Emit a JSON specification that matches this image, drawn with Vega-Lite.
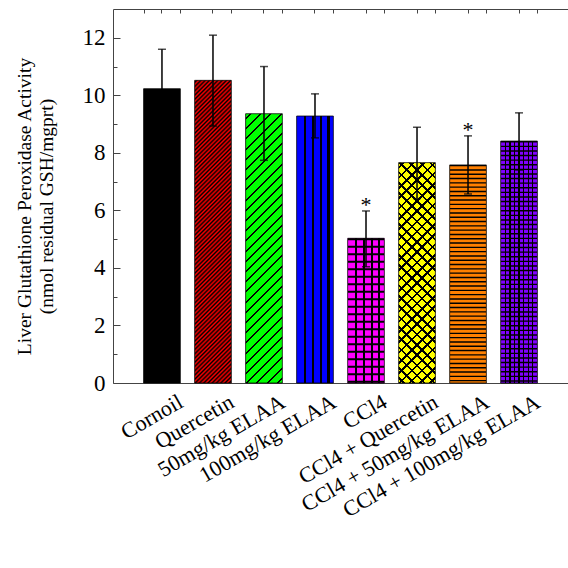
{
  "$schema": "https://vega.github.io/schema/vega-lite/v6.json",
  "autosize": "none",
  "padding": {"left": 113, "top": 9, "right": 0, "bottom": 185},
  "width": 455,
  "height": 374,
  "background": "white",
  "config": {"view": {"stroke": null}},
  "data": {"values": [
    {"group": "Cornoil", "mean": 10.23, "lo": 8.86, "hi": 11.6, "sig": ""},
    {"group": "Quercetin", "mean": 10.52, "lo": 8.93, "hi": 12.09, "sig": ""},
    {"group": "50mg/kg ELAA", "mean": 9.36, "lo": 7.74, "hi": 11.0, "sig": ""},
    {"group": "100mg/kg  ELAA", "mean": 9.28, "lo": 8.52, "hi": 10.05, "sig": ""},
    {"group": "CCl4", "mean": 5.03, "lo": 4.04, "hi": 5.98, "sig": "*"},
    {"group": "CCl4 + Quercetin", "mean": 7.66, "lo": 6.41, "hi": 8.89, "sig": ""},
    {"group": "CCl4 + 50mg/kg ELAA", "mean": 7.58, "lo": 6.57, "hi": 8.59, "sig": "*"},
    {"group": "CCl4 + 100mg/kg ELAA", "mean": 8.41, "lo": 7.4, "hi": 9.39, "sig": ""}
  ]},
  "resolve": {"axis": {"x": "independent", "y": "independent"}},
  "layer": [
    {
      "mark": {"type": "bar", "stroke": "black", "strokeWidth": 1, "strokeOpacity": 0.75},
      "encoding": {
        "x": {"field": "group", "type": "nominal", "sort": null,
          "scale": {"paddingInner": 0.28, "paddingOuter": 0.6},
          "axis": {"title": null, "labelAngle": -30, "labelFont": "Liberation Serif", "labelFontSize": 22, "labelColor": "black", "labelLimit": 400, "labelOffset": 14, "labelPadding": 12, "tickSize": -4, "tickColor": "#444", "domainColor": "#444", "grid": false}},
        "y": {"field": "mean", "type": "quantitative",
          "scale": {"domain": [0, 13], "nice": false, "zero": true},
          "axis": {"values": [0, 2, 4, 6, 8, 10, 12], "tickSize": -7, "labelPadding": 15, "labelFont": "Liberation Serif", "labelFontSize": 23, "labelColor": "black", "tickColor": "#444", "domainColor": "#444", "grid": false,
            "title": ["Liver Glutathione Peroxidase Activity", "(nmol residual GSH/mgprt)"],
            "titleFont": "Liberation Serif", "titleFontSize": 19.5, "titleFontWeight": "normal", "titleColor": "black", "titleAngle": -90, "titleAlign": "center", "titleBaseline": "top", "titleLineHeight": 22, "titleX": -98, "titleY": 197}},
        "fill": {
          "condition": [
            {"test": "datum.group === 'Cornoil'", "value": "#000000"},
            {"test": "datum.group === 'Quercetin'", "value": {"gradient": "linear", "x1": 0, "y1": 0, "x2": 0.1339, "y2": 1.105, "stops": [
              {"offset": 0, "color": "#f00"}, {"offset": 0.00625, "color": "#000"}, {"offset": 0.0125, "color": "#f00"}, {"offset": 0.01875, "color": "#000"}, {"offset": 0.025, "color": "#f00"}, {"offset": 0.03125, "color": "#000"}, {"offset": 0.0375, "color": "#f00"}, {"offset": 0.04375, "color": "#000"},
              {"offset": 0.05, "color": "#f00"}, {"offset": 0.05625, "color": "#000"}, {"offset": 0.0625, "color": "#f00"}, {"offset": 0.06875, "color": "#000"}, {"offset": 0.075, "color": "#f00"}, {"offset": 0.08125, "color": "#000"}, {"offset": 0.0875, "color": "#f00"}, {"offset": 0.09375, "color": "#000"},
              {"offset": 0.1, "color": "#f00"}, {"offset": 0.10625, "color": "#000"}, {"offset": 0.1125, "color": "#f00"}, {"offset": 0.11875, "color": "#000"}, {"offset": 0.125, "color": "#f00"}, {"offset": 0.13125, "color": "#000"}, {"offset": 0.1375, "color": "#f00"}, {"offset": 0.14375, "color": "#000"},
              {"offset": 0.15, "color": "#f00"}, {"offset": 0.15625, "color": "#000"}, {"offset": 0.1625, "color": "#f00"}, {"offset": 0.16875, "color": "#000"}, {"offset": 0.175, "color": "#f00"}, {"offset": 0.18125, "color": "#000"}, {"offset": 0.1875, "color": "#f00"}, {"offset": 0.19375, "color": "#000"},
              {"offset": 0.2, "color": "#f00"}, {"offset": 0.20625, "color": "#000"}, {"offset": 0.2125, "color": "#f00"}, {"offset": 0.21875, "color": "#000"}, {"offset": 0.225, "color": "#f00"}, {"offset": 0.23125, "color": "#000"}, {"offset": 0.2375, "color": "#f00"}, {"offset": 0.24375, "color": "#000"},
              {"offset": 0.25, "color": "#f00"}, {"offset": 0.25625, "color": "#000"}, {"offset": 0.2625, "color": "#f00"}, {"offset": 0.26875, "color": "#000"}, {"offset": 0.275, "color": "#f00"}, {"offset": 0.28125, "color": "#000"}, {"offset": 0.2875, "color": "#f00"}, {"offset": 0.29375, "color": "#000"},
              {"offset": 0.3, "color": "#f00"}, {"offset": 0.30625, "color": "#000"}, {"offset": 0.3125, "color": "#f00"}, {"offset": 0.31875, "color": "#000"}, {"offset": 0.325, "color": "#f00"}, {"offset": 0.33125, "color": "#000"}, {"offset": 0.3375, "color": "#f00"}, {"offset": 0.34375, "color": "#000"},
              {"offset": 0.35, "color": "#f00"}, {"offset": 0.35625, "color": "#000"}, {"offset": 0.3625, "color": "#f00"}, {"offset": 0.36875, "color": "#000"}, {"offset": 0.375, "color": "#f00"}, {"offset": 0.38125, "color": "#000"}, {"offset": 0.3875, "color": "#f00"}, {"offset": 0.39375, "color": "#000"},
              {"offset": 0.4, "color": "#f00"}, {"offset": 0.40625, "color": "#000"}, {"offset": 0.4125, "color": "#f00"}, {"offset": 0.41875, "color": "#000"}, {"offset": 0.425, "color": "#f00"}, {"offset": 0.43125, "color": "#000"}, {"offset": 0.4375, "color": "#f00"}, {"offset": 0.44375, "color": "#000"},
              {"offset": 0.45, "color": "#f00"}, {"offset": 0.45625, "color": "#000"}, {"offset": 0.4625, "color": "#f00"}, {"offset": 0.46875, "color": "#000"}, {"offset": 0.475, "color": "#f00"}, {"offset": 0.48125, "color": "#000"}, {"offset": 0.4875, "color": "#f00"}, {"offset": 0.49375, "color": "#000"},
              {"offset": 0.5, "color": "#f00"}, {"offset": 0.50625, "color": "#000"}, {"offset": 0.5125, "color": "#f00"}, {"offset": 0.51875, "color": "#000"}, {"offset": 0.525, "color": "#f00"}, {"offset": 0.53125, "color": "#000"}, {"offset": 0.5375, "color": "#f00"}, {"offset": 0.54375, "color": "#000"},
              {"offset": 0.55, "color": "#f00"}, {"offset": 0.55625, "color": "#000"}, {"offset": 0.5625, "color": "#f00"}, {"offset": 0.56875, "color": "#000"}, {"offset": 0.575, "color": "#f00"}, {"offset": 0.58125, "color": "#000"}, {"offset": 0.5875, "color": "#f00"}, {"offset": 0.59375, "color": "#000"},
              {"offset": 0.6, "color": "#f00"}, {"offset": 0.60625, "color": "#000"}, {"offset": 0.6125, "color": "#f00"}, {"offset": 0.61875, "color": "#000"}, {"offset": 0.625, "color": "#f00"}, {"offset": 0.63125, "color": "#000"}, {"offset": 0.6375, "color": "#f00"}, {"offset": 0.64375, "color": "#000"},
              {"offset": 0.65, "color": "#f00"}, {"offset": 0.65625, "color": "#000"}, {"offset": 0.6625, "color": "#f00"}, {"offset": 0.66875, "color": "#000"}, {"offset": 0.675, "color": "#f00"}, {"offset": 0.68125, "color": "#000"}, {"offset": 0.6875, "color": "#f00"}, {"offset": 0.69375, "color": "#000"},
              {"offset": 0.7, "color": "#f00"}, {"offset": 0.70625, "color": "#000"}, {"offset": 0.7125, "color": "#f00"}, {"offset": 0.71875, "color": "#000"}, {"offset": 0.725, "color": "#f00"}, {"offset": 0.73125, "color": "#000"}, {"offset": 0.7375, "color": "#f00"}, {"offset": 0.74375, "color": "#000"},
              {"offset": 0.75, "color": "#f00"}, {"offset": 0.75625, "color": "#000"}, {"offset": 0.7625, "color": "#f00"}, {"offset": 0.76875, "color": "#000"}, {"offset": 0.775, "color": "#f00"}, {"offset": 0.78125, "color": "#000"}, {"offset": 0.7875, "color": "#f00"}, {"offset": 0.79375, "color": "#000"},
              {"offset": 0.8, "color": "#f00"}, {"offset": 0.80625, "color": "#000"}, {"offset": 0.8125, "color": "#f00"}, {"offset": 0.81875, "color": "#000"}, {"offset": 0.825, "color": "#f00"}, {"offset": 0.83125, "color": "#000"}, {"offset": 0.8375, "color": "#f00"}, {"offset": 0.84375, "color": "#000"},
              {"offset": 0.85, "color": "#f00"}, {"offset": 0.85625, "color": "#000"}, {"offset": 0.8625, "color": "#f00"}, {"offset": 0.86875, "color": "#000"}, {"offset": 0.875, "color": "#f00"}, {"offset": 0.88125, "color": "#000"}, {"offset": 0.8875, "color": "#f00"}, {"offset": 0.89375, "color": "#000"},
              {"offset": 0.9, "color": "#f00"}, {"offset": 0.90625, "color": "#000"}, {"offset": 0.9125, "color": "#f00"}, {"offset": 0.91875, "color": "#000"}, {"offset": 0.925, "color": "#f00"}, {"offset": 0.93125, "color": "#000"}, {"offset": 0.9375, "color": "#f00"}, {"offset": 0.94375, "color": "#000"},
              {"offset": 0.95, "color": "#f00"}, {"offset": 0.95625, "color": "#000"}, {"offset": 0.9625, "color": "#f00"}, {"offset": 0.96875, "color": "#000"}, {"offset": 0.975, "color": "#f00"}, {"offset": 0.98125, "color": "#000"}, {"offset": 0.9875, "color": "#f00"}, {"offset": 0.99375, "color": "#000"},
              {"offset": 1, "color": "#f00"}
            ]}},
            {"test": "datum.group === '50mg/kg ELAA'", "value": {"gradient": "linear", "x1": 0, "y1": 0, "x2": 0.152, "y2": 1.1156, "stops": [
              {"offset": 0, "color": "#00ff00"},
              {"offset": 0.0133, "color": "#00ff00"}, {"offset": 0.0133, "color": "#000000"}, {"offset": 0.02, "color": "#000000"}, {"offset": 0.02, "color": "#00ff00"},
              {"offset": 0.0467, "color": "#00ff00"}, {"offset": 0.0467, "color": "#000000"}, {"offset": 0.0533, "color": "#000000"}, {"offset": 0.0533, "color": "#00ff00"},
              {"offset": 0.08, "color": "#00ff00"}, {"offset": 0.08, "color": "#000000"}, {"offset": 0.0867, "color": "#000000"}, {"offset": 0.0867, "color": "#00ff00"},
              {"offset": 0.1133, "color": "#00ff00"}, {"offset": 0.1133, "color": "#000000"}, {"offset": 0.12, "color": "#000000"}, {"offset": 0.12, "color": "#00ff00"},
              {"offset": 0.1467, "color": "#00ff00"}, {"offset": 0.1467, "color": "#000000"}, {"offset": 0.1533, "color": "#000000"}, {"offset": 0.1533, "color": "#00ff00"},
              {"offset": 0.18, "color": "#00ff00"}, {"offset": 0.18, "color": "#000000"}, {"offset": 0.1867, "color": "#000000"}, {"offset": 0.1867, "color": "#00ff00"},
              {"offset": 0.2133, "color": "#00ff00"}, {"offset": 0.2133, "color": "#000000"}, {"offset": 0.22, "color": "#000000"}, {"offset": 0.22, "color": "#00ff00"},
              {"offset": 0.2467, "color": "#00ff00"}, {"offset": 0.2467, "color": "#000000"}, {"offset": 0.2533, "color": "#000000"}, {"offset": 0.2533, "color": "#00ff00"},
              {"offset": 0.28, "color": "#00ff00"}, {"offset": 0.28, "color": "#000000"}, {"offset": 0.2867, "color": "#000000"}, {"offset": 0.2867, "color": "#00ff00"},
              {"offset": 0.3133, "color": "#00ff00"}, {"offset": 0.3133, "color": "#000000"}, {"offset": 0.32, "color": "#000000"}, {"offset": 0.32, "color": "#00ff00"},
              {"offset": 0.3467, "color": "#00ff00"}, {"offset": 0.3467, "color": "#000000"}, {"offset": 0.3533, "color": "#000000"}, {"offset": 0.3533, "color": "#00ff00"},
              {"offset": 0.38, "color": "#00ff00"}, {"offset": 0.38, "color": "#000000"}, {"offset": 0.3867, "color": "#000000"}, {"offset": 0.3867, "color": "#00ff00"},
              {"offset": 0.4133, "color": "#00ff00"}, {"offset": 0.4133, "color": "#000000"}, {"offset": 0.42, "color": "#000000"}, {"offset": 0.42, "color": "#00ff00"},
              {"offset": 0.4467, "color": "#00ff00"}, {"offset": 0.4467, "color": "#000000"}, {"offset": 0.4533, "color": "#000000"}, {"offset": 0.4533, "color": "#00ff00"},
              {"offset": 0.48, "color": "#00ff00"}, {"offset": 0.48, "color": "#000000"}, {"offset": 0.4867, "color": "#000000"}, {"offset": 0.4867, "color": "#00ff00"},
              {"offset": 0.5133, "color": "#00ff00"}, {"offset": 0.5133, "color": "#000000"}, {"offset": 0.52, "color": "#000000"}, {"offset": 0.52, "color": "#00ff00"},
              {"offset": 0.5467, "color": "#00ff00"}, {"offset": 0.5467, "color": "#000000"}, {"offset": 0.5533, "color": "#000000"}, {"offset": 0.5533, "color": "#00ff00"},
              {"offset": 0.58, "color": "#00ff00"}, {"offset": 0.58, "color": "#000000"}, {"offset": 0.5867, "color": "#000000"}, {"offset": 0.5867, "color": "#00ff00"},
              {"offset": 0.6133, "color": "#00ff00"}, {"offset": 0.6133, "color": "#000000"}, {"offset": 0.62, "color": "#000000"}, {"offset": 0.62, "color": "#00ff00"},
              {"offset": 0.6467, "color": "#00ff00"}, {"offset": 0.6467, "color": "#000000"}, {"offset": 0.6533, "color": "#000000"}, {"offset": 0.6533, "color": "#00ff00"},
              {"offset": 0.68, "color": "#00ff00"}, {"offset": 0.68, "color": "#000000"}, {"offset": 0.6867, "color": "#000000"}, {"offset": 0.6867, "color": "#00ff00"},
              {"offset": 0.7133, "color": "#00ff00"}, {"offset": 0.7133, "color": "#000000"}, {"offset": 0.72, "color": "#000000"}, {"offset": 0.72, "color": "#00ff00"},
              {"offset": 0.7467, "color": "#00ff00"}, {"offset": 0.7467, "color": "#000000"}, {"offset": 0.7533, "color": "#000000"}, {"offset": 0.7533, "color": "#00ff00"},
              {"offset": 0.78, "color": "#00ff00"}, {"offset": 0.78, "color": "#000000"}, {"offset": 0.7867, "color": "#000000"}, {"offset": 0.7867, "color": "#00ff00"},
              {"offset": 0.8133, "color": "#00ff00"}, {"offset": 0.8133, "color": "#000000"}, {"offset": 0.82, "color": "#000000"}, {"offset": 0.82, "color": "#00ff00"},
              {"offset": 0.8467, "color": "#00ff00"}, {"offset": 0.8467, "color": "#000000"}, {"offset": 0.8533, "color": "#000000"}, {"offset": 0.8533, "color": "#00ff00"},
              {"offset": 0.88, "color": "#00ff00"}, {"offset": 0.88, "color": "#000000"}, {"offset": 0.8867, "color": "#000000"}, {"offset": 0.8867, "color": "#00ff00"},
              {"offset": 0.9133, "color": "#00ff00"}, {"offset": 0.9133, "color": "#000000"}, {"offset": 0.92, "color": "#000000"}, {"offset": 0.92, "color": "#00ff00"},
              {"offset": 0.9467, "color": "#00ff00"}, {"offset": 0.9467, "color": "#000000"}, {"offset": 0.9533, "color": "#000000"}, {"offset": 0.9533, "color": "#00ff00"},
              {"offset": 0.98, "color": "#00ff00"}, {"offset": 0.98, "color": "#000000"}, {"offset": 0.9867, "color": "#000000"}, {"offset": 0.9867, "color": "#00ff00"},
              {"offset": 1, "color": "#00ff00"}
            ]}},
            {"test": "datum.group === '100mg/kg  ELAA'", "value": {"gradient": "linear", "x1": 0, "y1": 0, "x2": 1, "y2": 0, "stops": [
              {"offset": 0, "color": "#0000ff"},
              {"offset": 0.195, "color": "#0000ff"}, {"offset": 0.195, "color": "#000000"}, {"offset": 0.25, "color": "#000000"}, {"offset": 0.25, "color": "#0000ff"},
              {"offset": 0.41, "color": "#0000ff"}, {"offset": 0.41, "color": "#000000"}, {"offset": 0.465, "color": "#000000"}, {"offset": 0.465, "color": "#0000ff"},
              {"offset": 0.625, "color": "#0000ff"}, {"offset": 0.625, "color": "#000000"}, {"offset": 0.68, "color": "#000000"}, {"offset": 0.68, "color": "#0000ff"},
              {"offset": 0.84, "color": "#0000ff"}, {"offset": 0.84, "color": "#000000"}, {"offset": 0.895, "color": "#000000"}, {"offset": 0.895, "color": "#0000ff"},
              {"offset": 1, "color": "#0000ff"}
            ]}},
            {"test": "datum.group === 'CCl4'", "value": {"gradient": "linear", "x1": 0, "y1": 0, "x2": 1, "y2": 0, "stops": [
              {"offset": 0, "color": "#ff00ff"},
              {"offset": 0.207, "color": "#ff00ff"}, {"offset": 0.207, "color": "#000000"}, {"offset": 0.262, "color": "#000000"}, {"offset": 0.262, "color": "#ff00ff"},
              {"offset": 0.42, "color": "#ff00ff"}, {"offset": 0.42, "color": "#000000"}, {"offset": 0.475, "color": "#000000"}, {"offset": 0.475, "color": "#ff00ff"},
              {"offset": 0.627, "color": "#ff00ff"}, {"offset": 0.627, "color": "#000000"}, {"offset": 0.682, "color": "#000000"}, {"offset": 0.682, "color": "#ff00ff"},
              {"offset": 0.832, "color": "#ff00ff"}, {"offset": 0.832, "color": "#000000"}, {"offset": 0.887, "color": "#000000"}, {"offset": 0.887, "color": "#ff00ff"},
              {"offset": 1, "color": "#ff00ff"}
            ]}},
            {"test": "datum.group === 'CCl4 + Quercetin'", "value": {"gradient": "linear", "x1": 0, "y1": 0, "x2": 0.189, "y2": 1.135, "stops": [
              {"offset": 0, "color": "#ff0"},
              {"offset": 0.015, "color": "#ff0"}, {"offset": 0.015, "color": "#000"}, {"offset": 0.025, "color": "#000"}, {"offset": 0.025, "color": "#ff0"},
              {"offset": 0.055, "color": "#ff0"}, {"offset": 0.055, "color": "#000"}, {"offset": 0.065, "color": "#000"}, {"offset": 0.065, "color": "#ff0"},
              {"offset": 0.095, "color": "#ff0"}, {"offset": 0.095, "color": "#000"}, {"offset": 0.105, "color": "#000"}, {"offset": 0.105, "color": "#ff0"},
              {"offset": 0.135, "color": "#ff0"}, {"offset": 0.135, "color": "#000"}, {"offset": 0.145, "color": "#000"}, {"offset": 0.145, "color": "#ff0"},
              {"offset": 0.175, "color": "#ff0"}, {"offset": 0.175, "color": "#000"}, {"offset": 0.185, "color": "#000"}, {"offset": 0.185, "color": "#ff0"},
              {"offset": 0.215, "color": "#ff0"}, {"offset": 0.215, "color": "#000"}, {"offset": 0.225, "color": "#000"}, {"offset": 0.225, "color": "#ff0"},
              {"offset": 0.255, "color": "#ff0"}, {"offset": 0.255, "color": "#000"}, {"offset": 0.265, "color": "#000"}, {"offset": 0.265, "color": "#ff0"},
              {"offset": 0.295, "color": "#ff0"}, {"offset": 0.295, "color": "#000"}, {"offset": 0.305, "color": "#000"}, {"offset": 0.305, "color": "#ff0"},
              {"offset": 0.335, "color": "#ff0"}, {"offset": 0.335, "color": "#000"}, {"offset": 0.345, "color": "#000"}, {"offset": 0.345, "color": "#ff0"},
              {"offset": 0.375, "color": "#ff0"}, {"offset": 0.375, "color": "#000"}, {"offset": 0.385, "color": "#000"}, {"offset": 0.385, "color": "#ff0"},
              {"offset": 0.415, "color": "#ff0"}, {"offset": 0.415, "color": "#000"}, {"offset": 0.425, "color": "#000"}, {"offset": 0.425, "color": "#ff0"},
              {"offset": 0.455, "color": "#ff0"}, {"offset": 0.455, "color": "#000"}, {"offset": 0.465, "color": "#000"}, {"offset": 0.465, "color": "#ff0"},
              {"offset": 0.495, "color": "#ff0"}, {"offset": 0.495, "color": "#000"}, {"offset": 0.505, "color": "#000"}, {"offset": 0.505, "color": "#ff0"},
              {"offset": 0.535, "color": "#ff0"}, {"offset": 0.535, "color": "#000"}, {"offset": 0.545, "color": "#000"}, {"offset": 0.545, "color": "#ff0"},
              {"offset": 0.575, "color": "#ff0"}, {"offset": 0.575, "color": "#000"}, {"offset": 0.585, "color": "#000"}, {"offset": 0.585, "color": "#ff0"},
              {"offset": 0.615, "color": "#ff0"}, {"offset": 0.615, "color": "#000"}, {"offset": 0.625, "color": "#000"}, {"offset": 0.625, "color": "#ff0"},
              {"offset": 0.655, "color": "#ff0"}, {"offset": 0.655, "color": "#000"}, {"offset": 0.665, "color": "#000"}, {"offset": 0.665, "color": "#ff0"},
              {"offset": 0.695, "color": "#ff0"}, {"offset": 0.695, "color": "#000"}, {"offset": 0.705, "color": "#000"}, {"offset": 0.705, "color": "#ff0"},
              {"offset": 0.735, "color": "#ff0"}, {"offset": 0.735, "color": "#000"}, {"offset": 0.745, "color": "#000"}, {"offset": 0.745, "color": "#ff0"},
              {"offset": 0.775, "color": "#ff0"}, {"offset": 0.775, "color": "#000"}, {"offset": 0.785, "color": "#000"}, {"offset": 0.785, "color": "#ff0"},
              {"offset": 0.815, "color": "#ff0"}, {"offset": 0.815, "color": "#000"}, {"offset": 0.825, "color": "#000"}, {"offset": 0.825, "color": "#ff0"},
              {"offset": 0.855, "color": "#ff0"}, {"offset": 0.855, "color": "#000"}, {"offset": 0.865, "color": "#000"}, {"offset": 0.865, "color": "#ff0"},
              {"offset": 0.895, "color": "#ff0"}, {"offset": 0.895, "color": "#000"}, {"offset": 0.905, "color": "#000"}, {"offset": 0.905, "color": "#ff0"},
              {"offset": 0.935, "color": "#ff0"}, {"offset": 0.935, "color": "#000"}, {"offset": 0.945, "color": "#000"}, {"offset": 0.945, "color": "#ff0"},
              {"offset": 0.975, "color": "#ff0"}, {"offset": 0.975, "color": "#000"}, {"offset": 0.985, "color": "#000"}, {"offset": 0.985, "color": "#ff0"},
              {"offset": 1, "color": "#ff0"}
            ]}},
            {"test": "datum.group === 'CCl4 + 50mg/kg ELAA'", "value": "#ff8000"},
            {"test": "datum.group === 'CCl4 + 100mg/kg ELAA'", "value": {"gradient": "linear", "x1": 0, "y1": 0, "x2": 1, "y2": 0, "stops": [
              {"offset": 0, "color": "#8000ff"},
              {"offset": 0.107, "color": "#8000ff"}, {"offset": 0.107, "color": "#000000"}, {"offset": 0.143, "color": "#000000"}, {"offset": 0.143, "color": "#8000ff"},
              {"offset": 0.232, "color": "#8000ff"}, {"offset": 0.232, "color": "#000000"}, {"offset": 0.268, "color": "#000000"}, {"offset": 0.268, "color": "#8000ff"},
              {"offset": 0.357, "color": "#8000ff"}, {"offset": 0.357, "color": "#000000"}, {"offset": 0.393, "color": "#000000"}, {"offset": 0.393, "color": "#8000ff"},
              {"offset": 0.482, "color": "#8000ff"}, {"offset": 0.482, "color": "#000000"}, {"offset": 0.518, "color": "#000000"}, {"offset": 0.518, "color": "#8000ff"},
              {"offset": 0.607, "color": "#8000ff"}, {"offset": 0.607, "color": "#000000"}, {"offset": 0.643, "color": "#000000"}, {"offset": 0.643, "color": "#8000ff"},
              {"offset": 0.732, "color": "#8000ff"}, {"offset": 0.732, "color": "#000000"}, {"offset": 0.768, "color": "#000000"}, {"offset": 0.768, "color": "#8000ff"},
              {"offset": 0.857, "color": "#8000ff"}, {"offset": 0.857, "color": "#000000"}, {"offset": 0.893, "color": "#000000"}, {"offset": 0.893, "color": "#8000ff"},
              {"offset": 1, "color": "#8000ff"}
            ]}}
          ],
          "value": "#888888"
        }
      }
    },
    {
      "transform": [{"filter": "datum.group === 'CCl4 + Quercetin'"}],
      "mark": {"type": "bar", "strokeWidth": 0},
      "encoding": {
        "x": {"field": "group", "type": "nominal", "sort": null, "axis": null},
        "y": {"field": "mean", "type": "quantitative", "axis": null},
        "fill": {"value": {"gradient": "linear", "x1": 0, "y1": 1, "x2": 0.189, "y2": -0.135, "stops": [
          {"offset": 0, "color": "rgba(0,0,0,0)"},
          {"offset": 0.015, "color": "rgba(0,0,0,0)"}, {"offset": 0.015, "color": "#000"}, {"offset": 0.025, "color": "#000"}, {"offset": 0.025, "color": "rgba(0,0,0,0)"},
          {"offset": 0.055, "color": "rgba(0,0,0,0)"}, {"offset": 0.055, "color": "#000"}, {"offset": 0.065, "color": "#000"}, {"offset": 0.065, "color": "rgba(0,0,0,0)"},
          {"offset": 0.095, "color": "rgba(0,0,0,0)"}, {"offset": 0.095, "color": "#000"}, {"offset": 0.105, "color": "#000"}, {"offset": 0.105, "color": "rgba(0,0,0,0)"},
          {"offset": 0.135, "color": "rgba(0,0,0,0)"}, {"offset": 0.135, "color": "#000"}, {"offset": 0.145, "color": "#000"}, {"offset": 0.145, "color": "rgba(0,0,0,0)"},
          {"offset": 0.175, "color": "rgba(0,0,0,0)"}, {"offset": 0.175, "color": "#000"}, {"offset": 0.185, "color": "#000"}, {"offset": 0.185, "color": "rgba(0,0,0,0)"},
          {"offset": 0.215, "color": "rgba(0,0,0,0)"}, {"offset": 0.215, "color": "#000"}, {"offset": 0.225, "color": "#000"}, {"offset": 0.225, "color": "rgba(0,0,0,0)"},
          {"offset": 0.255, "color": "rgba(0,0,0,0)"}, {"offset": 0.255, "color": "#000"}, {"offset": 0.265, "color": "#000"}, {"offset": 0.265, "color": "rgba(0,0,0,0)"},
          {"offset": 0.295, "color": "rgba(0,0,0,0)"}, {"offset": 0.295, "color": "#000"}, {"offset": 0.305, "color": "#000"}, {"offset": 0.305, "color": "rgba(0,0,0,0)"},
          {"offset": 0.335, "color": "rgba(0,0,0,0)"}, {"offset": 0.335, "color": "#000"}, {"offset": 0.345, "color": "#000"}, {"offset": 0.345, "color": "rgba(0,0,0,0)"},
          {"offset": 0.375, "color": "rgba(0,0,0,0)"}, {"offset": 0.375, "color": "#000"}, {"offset": 0.385, "color": "#000"}, {"offset": 0.385, "color": "rgba(0,0,0,0)"},
          {"offset": 0.415, "color": "rgba(0,0,0,0)"}, {"offset": 0.415, "color": "#000"}, {"offset": 0.425, "color": "#000"}, {"offset": 0.425, "color": "rgba(0,0,0,0)"},
          {"offset": 0.455, "color": "rgba(0,0,0,0)"}, {"offset": 0.455, "color": "#000"}, {"offset": 0.465, "color": "#000"}, {"offset": 0.465, "color": "rgba(0,0,0,0)"},
          {"offset": 0.495, "color": "rgba(0,0,0,0)"}, {"offset": 0.495, "color": "#000"}, {"offset": 0.505, "color": "#000"}, {"offset": 0.505, "color": "rgba(0,0,0,0)"},
          {"offset": 0.535, "color": "rgba(0,0,0,0)"}, {"offset": 0.535, "color": "#000"}, {"offset": 0.545, "color": "#000"}, {"offset": 0.545, "color": "rgba(0,0,0,0)"},
          {"offset": 0.575, "color": "rgba(0,0,0,0)"}, {"offset": 0.575, "color": "#000"}, {"offset": 0.585, "color": "#000"}, {"offset": 0.585, "color": "rgba(0,0,0,0)"},
          {"offset": 0.615, "color": "rgba(0,0,0,0)"}, {"offset": 0.615, "color": "#000"}, {"offset": 0.625, "color": "#000"}, {"offset": 0.625, "color": "rgba(0,0,0,0)"},
          {"offset": 0.655, "color": "rgba(0,0,0,0)"}, {"offset": 0.655, "color": "#000"}, {"offset": 0.665, "color": "#000"}, {"offset": 0.665, "color": "rgba(0,0,0,0)"},
          {"offset": 0.695, "color": "rgba(0,0,0,0)"}, {"offset": 0.695, "color": "#000"}, {"offset": 0.705, "color": "#000"}, {"offset": 0.705, "color": "rgba(0,0,0,0)"},
          {"offset": 0.735, "color": "rgba(0,0,0,0)"}, {"offset": 0.735, "color": "#000"}, {"offset": 0.745, "color": "#000"}, {"offset": 0.745, "color": "rgba(0,0,0,0)"},
          {"offset": 0.775, "color": "rgba(0,0,0,0)"}, {"offset": 0.775, "color": "#000"}, {"offset": 0.785, "color": "#000"}, {"offset": 0.785, "color": "rgba(0,0,0,0)"},
          {"offset": 0.815, "color": "rgba(0,0,0,0)"}, {"offset": 0.815, "color": "#000"}, {"offset": 0.825, "color": "#000"}, {"offset": 0.825, "color": "rgba(0,0,0,0)"},
          {"offset": 0.855, "color": "rgba(0,0,0,0)"}, {"offset": 0.855, "color": "#000"}, {"offset": 0.865, "color": "#000"}, {"offset": 0.865, "color": "rgba(0,0,0,0)"},
          {"offset": 0.895, "color": "rgba(0,0,0,0)"}, {"offset": 0.895, "color": "#000"}, {"offset": 0.905, "color": "#000"}, {"offset": 0.905, "color": "rgba(0,0,0,0)"},
          {"offset": 0.935, "color": "rgba(0,0,0,0)"}, {"offset": 0.935, "color": "#000"}, {"offset": 0.945, "color": "#000"}, {"offset": 0.945, "color": "rgba(0,0,0,0)"},
          {"offset": 0.975, "color": "rgba(0,0,0,0)"}, {"offset": 0.975, "color": "#000"}, {"offset": 0.985, "color": "#000"}, {"offset": 0.985, "color": "rgba(0,0,0,0)"},
          {"offset": 1, "color": "rgba(0,0,0,0)"}
        ]}}
      }
    },
    {
      "transform": [{"filter": "datum.group === 'CCl4' || datum.group === 'CCl4 + 50mg/kg ELAA' || datum.group === 'CCl4 + 100mg/kg ELAA'"}],
      "mark": {"type": "rule", "strokeWidth": 36, "color": "black", "strokeCap": "butt"},
      "encoding": {
        "x": {"field": "group", "type": "nominal", "sort": null, "axis": null},
        "y": {"field": "mean", "type": "quantitative", "axis": null},
        "y2": {"datum": 0},
        "strokeDash": {
          "condition": [
            {"test": "datum.group === 'CCl4'", "value": [2, 5.5]},
            {"test": "datum.group === 'CCl4 + 50mg/kg ELAA'", "value": [1.4, 2.9]}
          ],
          "value": [1.4, 3.2]
        }
      }
    },
    {
      "mark": {"type": "errorbar", "ticks": {"size": 8, "thickness": 1.5, "color": "black"}, "rule": {"strokeWidth": 1.5, "color": "black"}},
      "encoding": {
        "x": {"field": "group", "type": "nominal", "sort": null,
          "axis": {"orient": "top", "labels": false, "domain": false, "title": null, "tickSize": -4, "tickColor": "#444", "grid": false, "offset": 0}},
        "y": {"field": "lo", "type": "quantitative", "axis": null},
        "y2": {"field": "hi"}
      }
    },
    {
      "mark": {"type": "text", "font": "Liberation Serif", "fontSize": 22, "baseline": "alphabetic", "dy": 1, "color": "black"},
      "encoding": {
        "x": {"field": "group", "type": "nominal", "sort": null,
          "axis": {"orient": "top", "tickBand": "extent", "labels": false, "title": null, "tickSize": -4, "tickColor": "#444", "domainColor": "#444", "grid": false, "offset": 0}},
        "y": {"field": "hi", "type": "quantitative",
          "axis": {"orient": "right", "offset": -455, "values": [1, 3, 5, 7, 9, 11], "tickSize": 4, "labels": false, "domain": false, "title": null, "tickColor": "#444", "grid": false}},
        "text": {"field": "sig"}
      }
    }
  ]
}
